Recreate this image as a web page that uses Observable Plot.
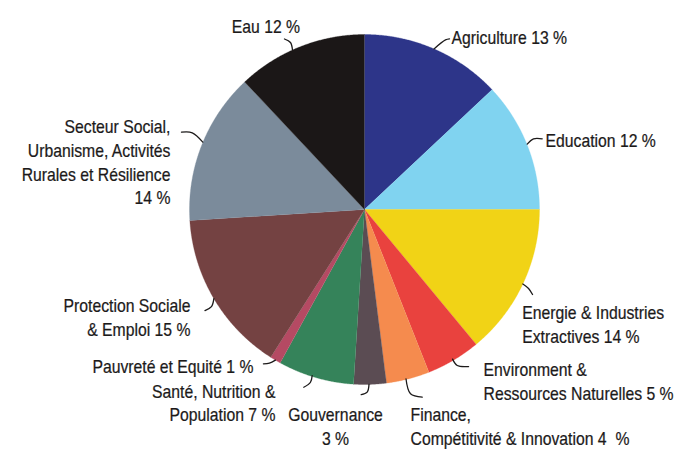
<!DOCTYPE html>
<html><head><meta charset="utf-8">
<script src="https://cdn.jsdelivr.net/npm/d3@7"></script>
<script src="https://cdn.jsdelivr.net/npm/@observablehq/plot@0.6"></script>
<style>body{margin:0;background:#fff}</style>
</head><body><div id="chart"></div>
<script>
// ---- data ----
const sectors = ["Agriculture","Education","Energie","Environment","Finance","Gouvernance","Sante","Pauvrete","Protection","Secteur","Eau"];
const shares = [13, 12, 14, 5, 4, 3, 7, 1, 15, 14, 12];
const labelTexts = [
  "Agriculture 13 %",
  "Education 12 %",
  "Energie & Industries\nExtractives 14 %",
  "Environment &\nRessources Naturelles 5 %",
  "Finance,\nCompétitivité & Innovation 4  %",
  "Gouvernance\n3 %",
  "Santé, Nutrition &\nPopulation 7 %",
  "Pauvreté et Equité 1 %",
  "Protection Sociale\n& Emploi 15 %",
  "Secteur Social,\nUrbanisme, Activités\nRurales et Résilience\n14 %",
  "Eau 12 %"
];
const colors = ["#2d3589","#80d3f0","#f1d316","#e9423e","#f58b4e","#5b4c53","#35835a","#b54a63","#744242","#7b8b9b","#1b1717"];

// ---- layout (pixels) ----
const W = 677, H = 449, CX = 364, CY = 209, R = 175;
const layout = {
  Agriculture: {anchor:"start",  t:[17.5,-12.4], l:[[0,0],[11.5,-9],[15.5,-10]]},
  Education:   {anchor:"start",  t:[18.3,-5.6],  l:[[0,-1],[6.3,-6.3],[15,-6.3]]},
  Energie:     {anchor:"start",  t:[-0.6,39.5],  l:[[0,0],[5.7,4.5],[9.7,10.5]]},
  Environment: {anchor:"start",  t:[30,20.4],    l:[[-1,-1],[3.7,5.4],[15,6.4]]},
  Finance:     {anchor:"start",  t:[2.5,46.6],   l:[[-2,0],[2.5,14.8],[14.2,18.2]]},
  Gouvernance: {anchor:"middle", t:[-34.5,41.1], l:[[-1,0],[-2.8,7.7],[-8.8,10.3]]},
  Sante:       {anchor:"end",    t:[-40.2,24.5], l:[[-3.5,-2],[-5.2,4.7],[-11.9,9.7]]},
  Pauvrete:    {anchor:"end",    t:[-21.9,5.4],  l:[[0,0],[-6,3],[-12,3.7]]},
  Protection:  {anchor:"end",    t:[-23.4,18],   l:[[0,0],[-2.4,8],[-8.9,12]]},
  Secteur:     {anchor:"end",    t:[-31.3,16.2], l:[[1,-3],[-9.5,-12.3],[-20.3,-12.9]]},
  Eau:         {anchor:"middle", t:[-34.1,-21.8],l:[[-7.6,3.2],[-9.6,-4.3],[-15.6,-7.8]]}
};
const textSqueeze = 0.83;

// ---- geometry from data ----
const arcs = d3.pie().sort(null).value(d => d)(shares);
const slices = [], labels = [], leaders = [];
arcs.forEach((p, i) => {
  const s = sectors[i];
  const n = Math.max(3, Math.ceil((p.endAngle - p.startAngle) / 0.005));
  slices.push({sector: s, x: 0, y: 0});
  for (let k = 0; k <= n; k++) {
    const a = p.startAngle + (p.endAngle - p.startAngle) * k / n;
    slices.push({sector: s, x: Math.sin(a), y: Math.cos(a)});
  }
  const mid = (p.startAngle + p.endAngle) / 2;
  const mx = Math.sin(mid), my = Math.cos(mid);
  const L = layout[s];
  labels.push({sector: s, anchor: L.anchor, text: labelTexts[i], x: mx + L.t[0] / R, y: my - L.t[1] / R});
  L.l.forEach(([dx, dy]) => leaders.push({sector: s, x: mx + dx / R, y: my - dy / R}));
});

const font = "'Liberation Sans',Arial,sans-serif";
const textMark = anchor => Plot.text(labels.filter(d => d.anchor === anchor), {
  x: "x", y: "y", text: "text", textAnchor: anchor, lineAnchor: "middle",
  lineHeight: 1.24, fontSize: 19, fill: "#1c1a1a", stroke: "#1c1a1a", strokeWidth: 0.25
});

const chart = Plot.plot({
  width: W, height: H, margin: 0,
  x: {domain: [-1, 1], range: [CX - R, CX + R], axis: null},
  y: {domain: [-1, 1], range: [CY + R, CY - R], axis: null},
  color: {domain: sectors, range: colors},
  style: {fontFamily: font, background: "#fff"},
  marks: [
    Plot.line(slices, {x: "x", y: "y", z: "sector", fill: "sector", stroke: "sector", strokeWidth: 0.3, curve: "linear"}),
    Plot.line(leaders, {x: "x", y: "y", z: "sector", stroke: "#1c1a1a", strokeWidth: 1.3, curve: "catmull-rom"}),
    textMark("start"),
    textMark("middle"),
    textMark("end")
  ]
});
// condense label glyphs horizontally (no condensed face installed)
chart.querySelectorAll('g[aria-label="text"] text').forEach(t => {
  const tr = t.getAttribute("transform") || "";
  t.setAttribute("transform", `${tr} scale(${textSqueeze},1)`);
});
document.getElementById("chart").appendChild(chart);
</script>
</body></html>
